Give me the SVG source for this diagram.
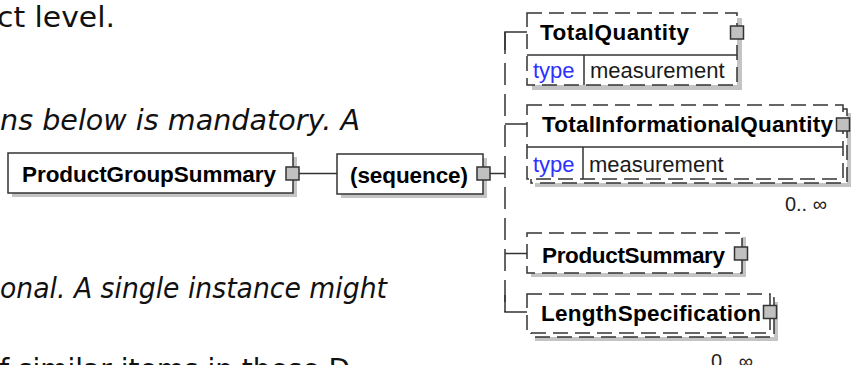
<svg xmlns="http://www.w3.org/2000/svg" width="852" height="365" viewBox="0 0 852 365">
<style>
.body{font-family:"DejaVu Sans",Verdana,sans-serif;font-size:28px;fill:#111}
.it{font-style:italic}
.lbl{font-family:"Liberation Sans",Arial,sans-serif;font-weight:bold;font-size:22.5px;fill:#000}
.an{font-family:"Liberation Sans",Arial,sans-serif;font-size:22px;fill:#3030ff}
.av{font-family:"Liberation Sans",Arial,sans-serif;font-size:22px;fill:#1a1a1a}
.occ{font-family:"Liberation Sans",Arial,sans-serif;font-size:20px;fill:#222}
.box{fill:#fff;stroke:#333;stroke-width:1.5}
.dash{fill:#fff;stroke:#333;stroke-width:1.5;stroke-dasharray:15,7}
.sh{fill:#c4c4c4}
.sep{stroke:#333;stroke-width:1.5;fill:none}
.exp{fill:#c0c0c0;stroke:#333;stroke-width:1.5}
.conn{stroke:#333;stroke-width:1.5;fill:none}
.vdash{stroke:#333;stroke-width:1.5;fill:none;stroke-dasharray:22,9}
</style>
<rect width="852" height="365" fill="#fff"/>
<g id="text">
<text class="body" x="-3" y="27" textLength="118" lengthAdjust="spacingAndGlyphs">ct level.</text>
<text class="body it" x="0" y="130" textLength="360" lengthAdjust="spacingAndGlyphs">ns below is mandatory. A</text>
<text class="body it" x="0" y="298" textLength="387" lengthAdjust="spacingAndGlyphs">onal. A single instance might</text>
<text class="body" x="-18" y="379">of similar items in these D</text>
</g>
<g id="connectors">
<line class="conn" x1="299" y1="173.5" x2="337" y2="173.5"/>
<line class="conn" x1="490" y1="173.5" x2="505" y2="173.5"/>
<line class="vdash" x1="505" y1="32" x2="505" y2="312"/>
<path class="conn" d="M527 32H505V50"/>
<line class="conn" x1="505" y1="124" x2="527" y2="124"/>
<line class="conn" x1="505" y1="253.5" x2="527" y2="253.5"/>
<path class="conn" d="M505 295V312H527"/>
</g>
<g id="ProductGroupSummary">
<rect class="sh" x="12" y="157" width="285" height="40"/>
<rect class="box" x="8" y="153" width="285" height="40"/>
<text class="lbl" x="22" y="182" textLength="254">ProductGroupSummary</text>
<rect class="exp" x="286" y="167" width="13" height="13"/>
</g>
<g id="sequence">
<rect class="sh" x="341" y="158" width="146" height="40"/>
<rect class="box" x="337" y="154" width="146" height="40"/>
<text class="lbl" x="350" y="183" textLength="118">(sequence)</text>
<rect class="exp" x="477" y="167" width="13" height="13"/>
</g>
<g id="TotalQuantity">
<rect class="sh" x="532" y="18" width="210" height="72"/>
<rect class="dash" x="527" y="13" width="210" height="72"/>
<line class="sep" x1="527" y1="55" x2="737" y2="55"/>
<line class="sep" x1="584" y1="55" x2="584" y2="85"/>
<text class="lbl" x="540" y="40" textLength="149">TotalQuantity</text>
<text class="an" x="533" y="78">type</text>
<text class="av" x="590" y="78">measurement</text>
<rect class="exp" x="730.5" y="26" width="13" height="13"/>
</g>
<g id="TotalInformationalQuantity">
<rect class="sh" x="535" y="113" width="316" height="74"/>
<rect class="dash" x="531" y="109" width="316" height="74"/>
<rect class="dash" x="527" y="105" width="316" height="74"/>
<line class="sep" x1="527" y1="147" x2="843" y2="147"/>
<line class="sep" x1="583" y1="147" x2="583" y2="179"/>
<text class="lbl" x="542" y="132" textLength="291">TotalInformationalQuantity</text>
<text class="an" x="533" y="172">type</text>
<text class="av" x="589" y="172">measurement</text>
<rect class="exp" x="836.5" y="118" width="13" height="13"/>
<text class="occ" x="827" y="211" text-anchor="end">0.. ∞</text>
</g>
<g id="ProductSummary">
<rect class="sh" x="531" y="237" width="215" height="40"/>
<rect class="dash" x="527" y="233" width="215" height="40"/>
<text class="lbl" x="542" y="263" textLength="183">ProductSummary</text>
<rect class="exp" x="734.5" y="247" width="13" height="13"/>
</g>
<g id="LengthSpecification">
<rect class="sh" x="535" y="302" width="243" height="39"/>
<rect class="dash" x="531" y="298" width="243" height="39"/>
<rect class="dash" x="527" y="294" width="243" height="39"/>
<text class="lbl" x="541" y="321" textLength="220">LengthSpecification</text>
<rect class="exp" x="763.5" y="305.5" width="13" height="13"/>
<text class="occ" x="753" y="368" text-anchor="end">0.. ∞</text>
</g>
</svg>
